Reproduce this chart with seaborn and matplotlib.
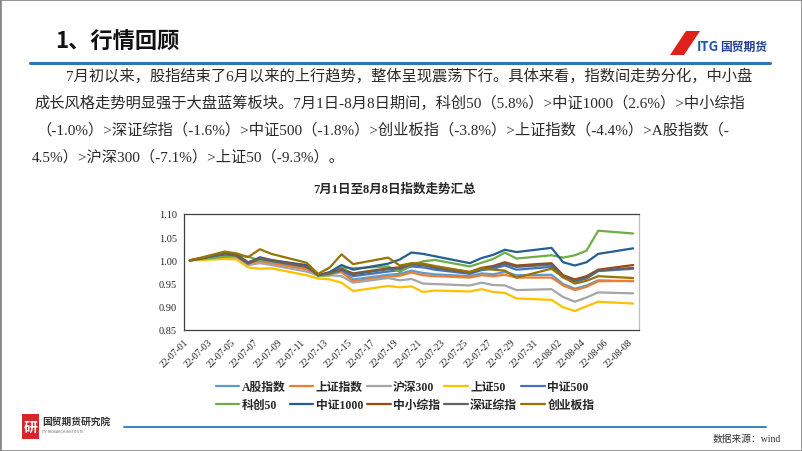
import pandas as pd
import matplotlib
matplotlib.use('Agg')
import matplotlib.pyplot as plt
from matplotlib.patches import Polygon, Rectangle
from matplotlib.lines import Line2D
import seaborn as sns

# trading days, 7/1 - 8/8
trade_days = ['2022-07-01', '2022-07-04', '2022-07-05', '2022-07-06', '2022-07-07', '2022-07-08',
              '2022-07-11', '2022-07-12', '2022-07-13', '2022-07-14', '2022-07-15',
              '2022-07-18', '2022-07-19', '2022-07-20', '2022-07-21', '2022-07-22',
              '2022-07-25', '2022-07-26', '2022-07-27', '2022-07-28', '2022-07-29',
              '2022-08-01', '2022-08-02', '2022-08-03', '2022-08-04', '2022-08-05', '2022-08-08']

a_share = [1.000, 1.010, 1.007, 0.993, 0.998, 0.995, 0.983, 0.969, 0.971, 0.977, 0.959, 0.969, 0.971, 0.978,
           0.973, 0.970, 0.966, 0.972, 0.970, 0.975, 0.968, 0.969, 0.949, 0.939, 0.946, 0.957, 0.955]
sh_comp = [1.000, 1.009, 1.006, 0.992, 0.996, 0.993, 0.981, 0.968, 0.970, 0.975, 0.955, 0.965, 0.967, 0.974,
           0.968, 0.966, 0.963, 0.968, 0.966, 0.969, 0.963, 0.963, 0.946, 0.936, 0.943, 0.955, 0.956]
hs300 = [1.000, 1.007, 1.004, 0.990, 0.994, 0.990, 0.976, 0.967, 0.968, 0.966, 0.952, 0.962, 0.957, 0.960,
         0.950, 0.949, 0.946, 0.952, 0.947, 0.946, 0.936, 0.938, 0.921, 0.911, 0.920, 0.931, 0.929]
sz50 = [1.000, 1.003, 1.002, 0.985, 0.982, 0.983, 0.968, 0.961, 0.959, 0.952, 0.934, 0.945, 0.942, 0.944,
        0.932, 0.935, 0.933, 0.938, 0.932, 0.930, 0.918, 0.915, 0.899, 0.891, 0.901, 0.911, 0.907]
zz500 = [1.000, 1.013, 1.010, 0.994, 1.007, 1.001, 0.988, 0.969, 0.971, 0.979, 0.966, 0.976, 0.979, 0.987,
         0.985, 0.980, 0.971, 0.979, 0.982, 0.989, 0.980, 0.986, 0.963, 0.954, 0.961, 0.977, 0.982]
kc50 = [1.000, 1.008, 1.010, 1.008, 1.000, 0.998, 0.988, 0.966, 0.968, 0.985, 0.983, 0.987, 0.975, 0.990,
        0.998, 1.001, 0.987, 0.995, 1.003, 1.017, 1.004, 1.011, 1.006, 1.011, 1.021, 1.064, 1.058]
zz1000 = [1.000, 1.014, 1.012, 0.996, 1.005, 1.000, 0.990, 0.968, 0.975, 0.990, 0.980, 0.993, 1.002, 1.017,
          1.014, 1.009, 0.994, 1.005, 1.012, 1.023, 1.018, 1.027, 0.996, 0.989, 0.996, 1.014, 1.026]
smallmid = [1.000, 1.015, 1.011, 0.995, 1.004, 1.000, 0.987, 0.969, 0.973, 0.982, 0.972, 0.983, 0.985, 0.993,
            0.992, 0.986, 0.975, 0.984, 0.988, 0.996, 0.989, 0.994, 0.968, 0.959, 0.966, 0.980, 0.990]
sz_comp = [1.000, 1.014, 1.010, 0.993, 1.004, 0.999, 0.986, 0.969, 0.972, 0.981, 0.970, 0.981, 0.983, 0.991,
           0.990, 0.984, 0.973, 0.982, 0.986, 0.993, 0.986, 0.991, 0.965, 0.956, 0.963, 0.978, 0.984]
chinext = [1.000, 1.019, 1.015, 1.007, 1.024, 1.014, 0.995, 0.971, 0.985, 1.013, 0.992, 1.006, 0.989, 0.994,
           0.993, 0.988, 0.975, 0.983, 0.980, 0.978, 0.963, 0.982, 0.964, 0.950, 0.956, 0.966, 0.962]

names = ['A股指数', '上证指数', '沪深300', '上证50', '中证500', '科创50', '中证1000', '中小综指', '深证综指', '创业板指']
series = [a_share, sh_comp, hs300, sz50, zz500, kc50, zz1000, smallmid, sz_comp, chinext]
colors = ['#5B9BD5', '#ED7D31', '#A5A5A5', '#FFC000', '#4472C4',
          '#70AD47', '#255E91', '#9E480E', '#636363', '#997300']

y_ticks = [0.85, 0.90, 0.95, 1.00, 1.05, 1.10]

paragraph = [
    '7月初以来，股指结束了6月以来的上行趋势，整体呈现震荡下行。具体来看，指数间走势分化，中小盘',
    '成长风格走势明显强于大盘蓝筹板块。7月1日-8月8日期间，科创50（5.8%）>中证1000（2.6%）>中小综指',
    '（-1.0%）>深证综指（-1.6%）>中证500（-1.8%）>创业板指（-3.8%）>上证指数（-4.4%）>A股指数（-',
    '4.5%）>沪深300（-7.1%）>上证50（-9.3%）。',
]

rows = []
for name, vals in zip(names, series):
    for d, v in zip(trade_days, vals):
        # excel date axis puts the point in the middle of the day
        rows.append({'date': pd.Timestamp(d) + pd.Timedelta(hours=12), 'value': v, 'index': name})
df = pd.DataFrame(rows)

sns.set_theme(style='white')
serif = ['Liberation Serif', 'Noto Sans CJK SC']
sans = ['Noto Sans CJK SC', 'DejaVu Sans']
plt.rcParams['font.family'] = serif

W, H = 802, 452
fig = plt.figure(figsize=(W / 100, H / 100), dpi=100)
fig.patch.set_facecolor('white')


def fx(px):
    return px / W


def fy(py):
    return 1 - py / H


ax = fig.add_axes([fx(184), fy(331), fx(639 - 184), (331 - 215) / H])
sns.lineplot(data=df, x='date', y='value', hue='index', hue_order=names, palette=colors,
             linewidth=1.6, ax=ax)

ax.set_xlim(pd.Timestamp('2022-07-01'), pd.Timestamp('2022-08-09'))
ax.set_ylim(0.85, 1.10)
ax.set_yticks(y_ticks)
ax.set_yticklabels([f'{t:.2f}' for t in y_ticks], fontsize=7.5)
xt = pd.date_range('2022-07-01', '2022-08-08', freq='2D')
ax.set_xticks(xt)
ax.set_xticklabels([d.strftime('%y-%m-%d') for d in xt], rotation=45, ha='right',
                   rotation_mode='anchor', fontsize=7)
ax.set_xlabel('')
ax.set_ylabel('')
ax.tick_params(axis='both', direction='out', length=3, width=0.8, color='#404040', pad=2)
for s in ['left', 'bottom', 'top']:
    ax.spines[s].set_color('#404040')
    ax.spines[s].set_linewidth(0.9)
ax.spines['right'].set_color('#BFBFBF')
ax.spines['right'].set_linewidth(0.9)

handles, labels = ax.get_legend_handles_labels()
ax.get_legend().remove()
order = [0, 5, 1, 6, 2, 7, 3, 8, 4, 9]
fig.legend([handles[i] for i in order], [labels[i] for i in order], ncol=5, loc='center',
           bbox_to_anchor=(fx(405), fy(397)), frameon=False,
           prop={'family': serif, 'weight': 'bold', 'size': 8.5},
           handlelength=2.0, handletextpad=0.2, columnspacing=0.35, labelspacing=0.55)

fig.text(fx(395), fy(190), '7月1日至8月8日指数走势汇总', ha='center', va='center',
         fontsize=9, weight='bold', family=serif)

# header
fig.text(fx(55), fy(42), '1、行情回顾', fontsize=16, weight='bold', family=sans, va='center', color='#111111')
fig.add_artist(Polygon([(fx(670), fy(56)), (fx(686), fy(32)), (fx(700), fy(32)), (fx(684), fy(56))],
                       closed=True, transform=fig.transFigure, facecolor='#E0201B', edgecolor='none'))
fig.text(fx(697), fy(47), 'ITG', fontsize=9.5, weight='bold', color='#1F56A8', family=sans, va='center')
fig.text(fx(720), fy(47), '国贸期货', fontsize=8.5, weight='bold', color='#1F3F8F', family=sans, va='center')
fig.add_artist(Line2D([fx(30), fx(770)], [fy(64), fy(64)], transform=fig.transFigure,
                      color='#2E75B6', lw=2.2))

# paragraph
lefts = [66, 34, 36, 32]
tops = [76, 103, 130, 157]
for txt, lx, ty in zip(paragraph, lefts, tops):
    fig.text(fx(lx), fy(ty), txt, fontsize=11, family=serif, va='center', color='#2a2a2a')

# footer
fig.add_artist(Rectangle((fx(22), fy(440)), fx(17), 25 / H, transform=fig.transFigure,
                         facecolor='#D7262B', edgecolor='none'))
fig.text(fx(30.5), fy(428), '研', fontsize=10, color='white', weight='bold', family=sans,
         ha='center', va='center')
fig.text(fx(42), fy(422), '国贸期货研究院', fontsize=7, color='#333333', weight='bold', family=sans, va='center')
fig.text(fx(42), fy(432), 'ITF RESEARCH INSTITUTE', fontsize=2.5, color='#666666', family=sans, va='center')
fig.add_artist(Line2D([fx(124), fx(766)], [fy(428), fy(428)], transform=fig.transFigure,
                      color='#2E75B6', lw=1.3))
fig.text(fx(781), fy(439), '数据来源：wind', fontsize=7, color='#333333', family=serif, ha='right', va='center')

fig.add_artist(Rectangle((0, 0), 1, 1, transform=fig.transFigure, fill=False,
                         edgecolor='#8A8A8A', lw=2))

fig.savefig('out.png', dpi=100)
